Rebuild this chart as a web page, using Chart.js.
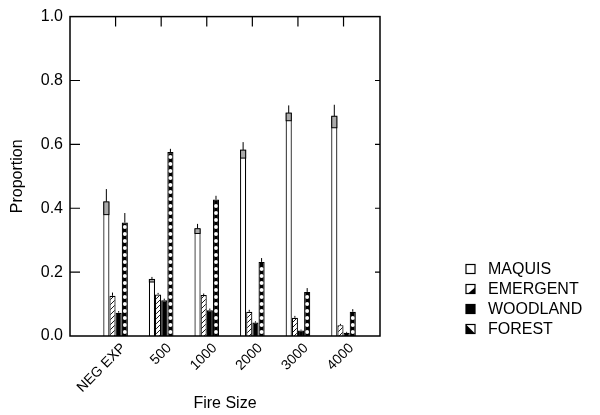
<!DOCTYPE html>
<html>
<head>
<meta charset="utf-8">
<script src="https://cdn.jsdelivr.net/npm/chart.js@4/dist/chart.umd.min.js"></script>
<style>
  html, body { margin: 0; padding: 0; background: #fff; }
  #wrap { width: 600px; height: 415px; }
</style>
</head>
<body>
<div id="wrap"><canvas id="fire-chart"></canvas></div>
<script>
const fireSizes = ['NEG EXP', '500', '1000', '2000', '3000', '4000'];
const classNames = ['MAQUIS', 'EMERGENT', 'WOODLAND', 'FOREST'];

const maquis   = [0.420, 0.177, 0.336, 0.582, 0.698, 0.688];
const emergent = [0.126, 0.130, 0.128, 0.076, 0.057, 0.034];
const woodland = [0.073, 0.112, 0.081, 0.042, 0.017, 0.010];
const forest   = [0.355, 0.576, 0.427, 0.232, 0.138, 0.076];

// standard errors
const maquisErr   = [0.040, 0.008, 0.015, 0.025, 0.024, 0.036];
const emergentErr = [0.010, 0.005, 0.005, 0.006, 0.006, 0.004];
const woodlandErr = [0.005, 0.005, 0.005, 0.004, 0.003, 0.003];
const forestErr   = [0.030, 0.010, 0.012, 0.012, 0.012, 0.008];

const yTicks = [0, 0.2, 0.4, 0.6, 0.8, 1.0];

const FONT = '"Liberation Sans", Arial, Helvetica, sans-serif';

function hatchPattern() {
  const c = document.createElement('canvas');
  c.width = 5; c.height = 5;
  const g = c.getContext('2d');
  g.fillStyle = '#fff';
  g.fillRect(0, 0, 5, 5);
  g.strokeStyle = '#000';
  g.lineWidth = 0.9;
  g.beginPath();
  g.moveTo(0, 5); g.lineTo(5, 0);
  g.moveTo(-1, 1); g.lineTo(1, -1);
  g.moveTo(4, 6); g.lineTo(6, 4);
  g.stroke();
  return g.createPattern(c, 'repeat');
}

const ctx = document.getElementById('fire-chart');
const hatch = hatchPattern();

const series = [
  { label: classNames[0], values: maquis,   errs: maquisErr,   fill: '#fff' },
  { label: classNames[1], values: emergent, errs: emergentErr, fill: hatch },
  { label: classNames[2], values: woodland, errs: woodlandErr, fill: '#000' },
  { label: classNames[3], values: forest,   errs: forestErr,   fill: '#000' }
];

// frame, inward ticks, error bars, dotted fill and the legend
const decorations = {
  id: 'decorations',
  afterDatasetsDraw(chart) {
    const g = chart.ctx;
    const area = chart.chartArea;
    const xs = chart.scales.x;
    const ys = chart.scales.y;
    g.save();

    // white circles on FOREST bars
    const fMeta = chart.getDatasetMeta(3);
    g.fillStyle = '#fff';
    fMeta.data.forEach(bar => {
      const top = Math.min(bar.y, bar.base);
      const cx = bar.x;
      for (let cy = bar.base - 4; cy > top + 3; cy -= 7) {
        g.beginPath();
        g.arc(cx, cy, 1.9, 0, Math.PI * 2);
        g.fill();
      }
    });

    // error bars: whisker above, shaded box below the bar top
    g.strokeStyle = '#000';
    g.lineWidth = 1;
    series.forEach((s, di) => {
      const meta = chart.getDatasetMeta(di);
      meta.data.forEach((bar, i) => {
        const v = s.values[i];
        const e = s.errs[i];
        const yTop = ys.getPixelForValue(v);
        const yHi = ys.getPixelForValue(v + e);
        const yLo = ys.getPixelForValue(Math.max(0, v - e));
        g.beginPath();
        g.moveTo(bar.x, yTop);
        g.lineTo(bar.x, yHi);
        g.stroke();
        if (di === 0) {
          const hw = bar.width / 2 - 0.5;
          g.fillStyle = '#aaa';
          g.fillRect(bar.x - hw, yTop, hw * 2, yLo - yTop);
          g.strokeRect(bar.x - hw, yTop, hw * 2, yLo - yTop);
        }
      });
    });

    // frame
    g.lineWidth = 1.5;
    g.strokeRect(area.left, area.top, area.right - area.left, area.bottom - area.top);

    // inward ticks
    g.lineWidth = 1.2;
    g.beginPath();
    fireSizes.forEach((_, i) => {
      const x = xs.getPixelForValue(i);
      g.moveTo(x, area.top);
      g.lineTo(x, area.top + 10);
    });
    yTicks.slice(1, -1).forEach(v => {
      const y = ys.getPixelForValue(v);
      g.moveTo(area.left, y);
      g.lineTo(area.left + 10, y);
      g.moveTo(area.right, y);
      g.lineTo(area.right - 5, y);
    });
    g.stroke();

    // legend
    const lx = 466, ly0 = 269, step = 20, box = 9;
    g.font = '16px ' + FONT;
    g.textBaseline = 'middle';
    g.textAlign = 'left';
    g.lineWidth = 1.2;
    classNames.forEach((name, i) => {
      const y = ly0 + i * step;
      const bx = lx, by = y - box / 2;
      g.fillStyle = '#fff';
      g.fillRect(bx, by, box, box);
      if (i === 1) {
        g.fillStyle = '#000';
        g.beginPath();
        g.moveTo(bx + 2, by + box);
        g.lineTo(bx + box, by + 3);
        g.lineTo(bx + box, by + box);
        g.closePath();
        g.fill();
      } else if (i === 2) {
        g.fillStyle = '#000';
        g.fillRect(bx, by, box, box);
      } else if (i === 3) {
        g.fillStyle = '#000';
        g.beginPath();
        g.moveTo(bx, by);
        g.lineTo(bx + box, by + box);
        g.lineTo(bx, by + box);
        g.closePath();
        g.fill();
      }
      g.strokeStyle = '#000';
      g.strokeRect(bx, by, box, box);
      g.fillStyle = '#000';
      g.fillText(name, lx + 22, y + 1);
    });

    g.restore();
  }
};

new Chart(ctx, {
  type: 'bar',
  data: {
    datasets: series.map(s => ({
      label: s.label,
      data: s.values.map((v, i) => ({ x: i, y: v })),
      backgroundColor: s.fill,
      borderColor: '#000',
      borderWidth: 1.2,
      categoryPercentage: 0.54,
      barPercentage: 1.0
    }))
  },
  options: {
    responsive: true,
    maintainAspectRatio: false,
    animation: false,
    layout: { padding: { top: 16, right: 220, left: 0, bottom: 0 } },
    plugins: {
      legend: { display: false },
      tooltip: { enabled: false }
    },
    scales: {
      x: {
        type: 'linear',
        offset: false,
        min: -1,
        max: 5.8,
        afterBuildTicks(scale) {
          scale.ticks = fireSizes.map((_, i) => ({ value: i }));
        },
        afterFit(scale) { scale.height = 79; },
        grid: { display: false, drawTicks: false, offset: false },
        border: { display: false },
        ticks: {
          autoSkip: false,
          minRotation: 45,
          maxRotation: 45,
          padding: 4,
          labelOffset: 8,
          color: '#000',
          font: { family: FONT, size: 14 },
          callback: v => fireSizes[v] ?? ''
        },
        title: {
          display: true,
          text: 'Fire Size',
          color: '#000',
          font: { family: FONT, size: 16 },
          padding: { top: 0, bottom: 2 }
        }
      },
      y: {
        min: 0,
        max: 1,
        afterBuildTicks(scale) {
          scale.ticks = yTicks.map(v => ({ value: v }));
        },
        afterFit(scale) { scale.width = 70; },
        grid: { display: false, drawTicks: false },
        border: { display: false },
        ticks: {
          padding: 7,
          color: '#000',
          font: { family: FONT, size: 16 },
          callback: v => v.toFixed(1)
        },
        title: {
          display: true,
          text: 'Proportion',
          color: '#000',
          font: { family: FONT, size: 16 },
          padding: { top: 8, bottom: 0 }
        }
      }
    }
  },
  plugins: [decorations]
});
</script>
</body>
</html>
